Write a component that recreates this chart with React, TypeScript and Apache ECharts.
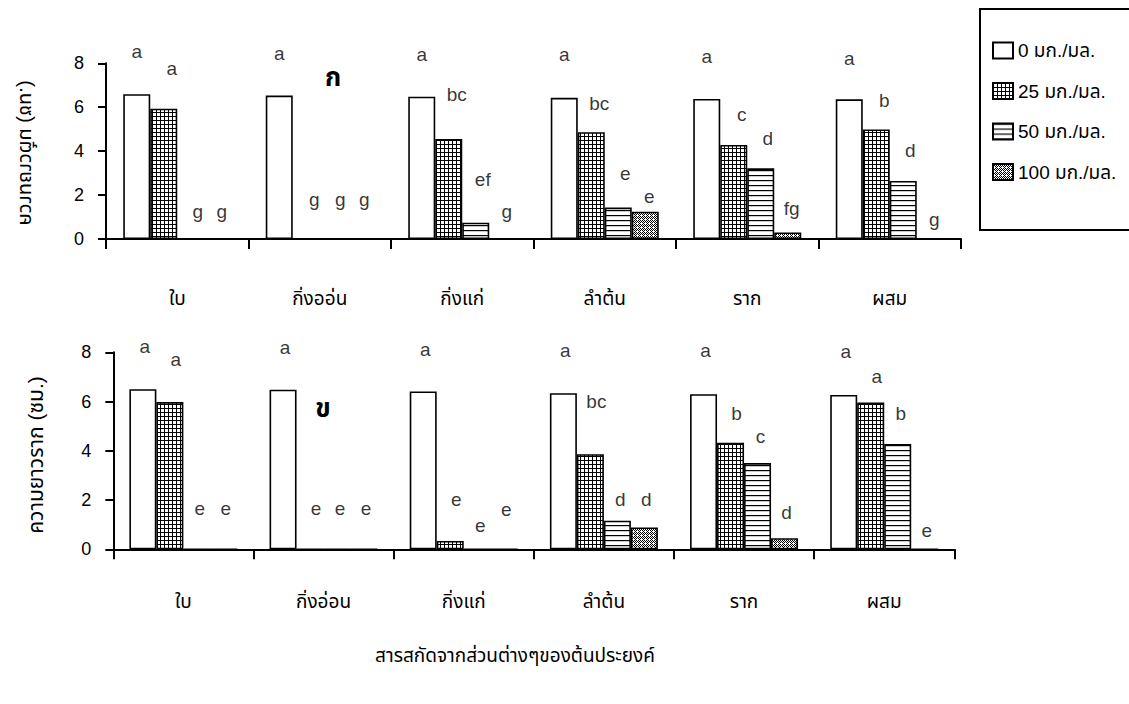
import React, { useEffect, useRef } from 'react';
import * as echarts from 'echarts';

// ---------- data ----------
const categoriesTop = ['ใบ', 'กิ่งออ่น', 'กิ่งแก่', 'ลำต้น', 'ราก', 'ผสม'];
const categoriesBottom = ['ใบ', 'กิ่งอ่อน', 'กิ่งแก่', 'ลำต้น', 'ราก', 'ผสม'];
const seriesNames = ['0 มก./มล.', '25 มก./มล.', '50 มก./มล.', '100 มก./มล.'];

// shoot length (cm) – panel ก
const shoot0 = [6.59, 6.53, 6.48, 6.43, 6.38, 6.36];
const shoot25 = [5.93, 0, 4.55, 4.86, 4.28, 4.99];
const shoot50 = [0, 0, 0.74, 1.43, 3.22, 2.64];
const shoot100 = [0, 0, 0, 1.24, 0.3, 0];

// root length (cm) – panel ข
const root0 = [6.5, 6.48, 6.41, 6.34, 6.3, 6.27];
const root25 = [5.98, 0, 0.34, 3.86, 4.33, 5.96];
const root50 = [0, 0, 0, 1.16, 3.5, 4.28];
const root100 = [0, 0, 0, 0.89, 0.45, 0];

// significance letters and the height (cm) at which each is written
const shootLetters0 = ['a', 'a', 'a', 'a', 'a', 'a'];
const shootLetters25 = ['a', 'g', 'bc', 'bc', 'c', 'b'];
const shootLetters50 = ['g', 'g', 'ef', 'e', 'd', 'd'];
const shootLetters100 = ['g', 'g', 'g', 'e', 'fg', 'g'];
const shootLetterY0 = [8.53, 8.46, 8.42, 8.38, 8.33, 8.23];
const shootLetterY25 = [7.77, 1.78, 6.56, 6.18, 5.65, 6.3];
const shootLetterY50 = [1.24, 1.78, 2.69, 2.96, 4.59, 4.02];
const shootLetterY100 = [1.24, 1.78, 1.24, 1.93, 1.4, 0.87];

const rootLetters0 = ['a', 'a', 'a', 'a', 'a', 'a'];
const rootLetters25 = ['a', 'e', 'e', 'bc', 'b', 'a'];
const rootLetters50 = ['e', 'e', 'e', 'd', 'c', 'b'];
const rootLetters100 = ['e', 'e', 'e', 'd', 'd', 'e'];
const rootLetterY0 = [8.24, 8.21, 8.1, 8.07, 8.07, 8.03];
const rootLetterY25 = [7.7, 1.67, 2.03, 6.0, 5.53, 7.02];
const rootLetterY50 = [1.67, 1.67, 0.95, 2.03, 4.58, 5.5];
const rootLetterY100 = [1.67, 1.67, 1.63, 2.03, 1.49, 0.78];

const yTicks = { min: 0, max: 8, interval: 2 };

const FONT = "'Liberation Sans', Arial, 'Noto Sans Thai', 'Noto Sans', sans-serif";

function makeCanvas(w: number, h: number, draw: (ctx: CanvasRenderingContext2D) => void) {
  const c = document.createElement('canvas');
  c.width = w;
  c.height = h;
  const ctx = c.getContext('2d') as CanvasRenderingContext2D;
  draw(ctx);
  return c;
}

export default function App() {
  const ref = useRef<HTMLDivElement>(null);

  useEffect(() => {
    if (!ref.current) return;
    const chart = echarts.init(ref.current, undefined, { renderer: 'svg' });

    const gridCanvas = makeCanvas(4, 4, (ctx) => {
      ctx.fillStyle = '#fff';
      ctx.fillRect(0, 0, 4, 4);
      ctx.fillStyle = '#000';
      ctx.fillRect(0, 0, 1, 4);
      ctx.fillRect(0, 0, 4, 1);
    });
    const lineCanvas = makeCanvas(4, 5, (ctx) => {
      ctx.fillStyle = '#fff';
      ctx.fillRect(0, 0, 4, 5);
      ctx.fillStyle = '#000';
      ctx.fillRect(0, 0, 4, 1.2);
    });
    const dotCanvas = makeCanvas(4, 4, (ctx) => {
      ctx.fillStyle = '#fff';
      ctx.fillRect(0, 0, 4, 4);
      ctx.fillStyle = '#000';
      ctx.fillRect(0, 0, 1, 1);
      ctx.fillRect(2, 0, 1, 1);
      ctx.fillRect(1, 1, 1, 1);
      ctx.fillRect(3, 1, 1, 1);
      ctx.fillRect(0, 2, 1, 1);
      ctx.fillRect(2, 2, 1, 1);
      ctx.fillRect(3, 3, 1, 1);
    });
    const fills: any[] = [
      '#ffffff',
      { image: gridCanvas, repeat: 'repeat' },
      { image: lineCanvas, repeat: 'repeat' },
      { image: dotCanvas, repeat: 'repeat' },
    ];

    const BAR_W = 27;
    const topVals = [shoot0, shoot25, shoot50, shoot100];
    const botVals = [root0, root25, root50, root100];
    const topLetters = [shootLetters0, shootLetters25, shootLetters50, shootLetters100];
    const topLetterY = [shootLetterY0, shootLetterY25, shootLetterY50, shootLetterY100];
    const botLetters = [rootLetters0, rootLetters25, rootLetters50, rootLetters100];
    const botLetterY = [rootLetterY0, rootLetterY25, rootLetterY50, rootLetterY100];
    const topShift = [0, 8, 7, 4];
    const botShift = [2, 6, 3, 2];

    const series: any[] = [];
    [0, 1].forEach((g) => {
      const vals = g === 0 ? topVals : botVals;
      vals.forEach((arr, i) => {
        series.push({
          name: seriesNames[i],
          type: 'bar',
          xAxisIndex: g,
          yAxisIndex: g,
          barWidth: BAR_W,
          barGap: '0%',
          itemStyle: { color: fills[i], borderColor: '#000', borderWidth: 1.6 },
          data: arr,
        });
      });
    });
    [0, 1].forEach((g) => {
      const letters = g === 0 ? topLetters : botLetters;
      const ly = g === 0 ? topLetterY : botLetterY;
      const shift = g === 0 ? topShift : botShift;
      letters.forEach((arr, i) => {
        series.push({
          name: 'letters-' + g + '-' + i,
          type: 'scatter',
          xAxisIndex: g,
          yAxisIndex: g,
          symbolSize: 1,
          clip: false,
          itemStyle: { color: 'rgba(0,0,0,0)' },
          silent: true,
          label: {
            show: true,
            position: 'inside',
            offset: [(i - 1.5) * BAR_W + shift[i], 0],
            formatter: (p: any) => arr[p.dataIndex],
            fontSize: 19,
            color: '#000',
            fontFamily: FONT,
          },
          data: ly[i].map((y, k) => [k, y]),
        });
      });
    });

    const xAxisCommon = (data: string[], gridIndex: number, margin: number) => ({
      type: 'category',
      gridIndex,
      data,
      boundaryGap: true,
      axisLine: { show: true, lineStyle: { color: '#000', width: 2 } },
      axisTick: { show: true, interval: 0, length: 10, lineStyle: { color: '#000', width: 2 } },
      axisLabel: { interval: 0, margin, fontSize: 19, color: '#000', fontFamily: FONT },
      splitLine: { show: false },
    });
    const yAxisCommon = (gridIndex: number) => ({
      type: 'value',
      gridIndex,
      min: yTicks.min,
      max: yTicks.max,
      interval: yTicks.interval,
      axisLine: { show: true, lineStyle: { color: '#000', width: 2 } },
      axisTick: { show: true, length: 8, lineStyle: { color: '#000', width: 2 } },
      axisLabel: { margin: 22, fontSize: 18, color: '#000', fontFamily: FONT },
      splitLine: { show: false },
    });

    chart.setOption({
      animation: false,
      backgroundColor: '#fff',
      grid: [
        { left: 106, top: 63.3, width: 855, height: 175.7 },
        { left: 113.3, top: 352.3, width: 841, height: 197 },
      ],
      xAxis: [xAxisCommon(categoriesTop, 0, 50), xAxisCommon(categoriesBottom, 1, 43)],
      yAxis: [yAxisCommon(0), yAxisCommon(1)],
      legend: {
        data: seriesNames,
        orient: 'vertical',
        left: 987,
        top: 36,
        itemWidth: 20,
        itemHeight: 16,
        itemGap: 21.5,
        icon: 'rect',
        selectedMode: false,
        textStyle: { fontSize: 19, lineHeight: 16, color: '#000', fontFamily: FONT },
      },
      graphic: [
        {
          type: 'rect',
          shape: { x: 980, y: 9, width: 180, height: 221 },
          style: { fill: 'none', stroke: '#000', lineWidth: 2 },
          silent: true,
        },
        {
          type: 'text',
          x: 27,
          y: 153,
          rotation: Math.PI / 2,
          scaleY: -1,
          style: {
            text: 'ความยาวต้น (ซม.)',
            fontSize: 20,
            fontFamily: FONT,
            fill: '#000',
            align: 'center',
            verticalAlign: 'middle',
          },
        },
        {
          type: 'text',
          x: 35,
          y: 455,
          rotation: Math.PI / 2,
          style: {
            text: 'ความยาวราก (ซม.)',
            fontSize: 21,
            fontFamily: FONT,
            fill: '#000',
            align: 'center',
            verticalAlign: 'middle',
          },
        },
        {
          type: 'text',
          x: 333,
          y: 77,
          style: {
            text: 'ก',
            fontSize: 26,
            fontWeight: 'bold',
            fontFamily: FONT,
            fill: '#000',
            align: 'center',
            verticalAlign: 'middle',
          },
        },
        {
          type: 'text',
          x: 323,
          y: 408,
          style: {
            text: 'ข',
            fontSize: 26,
            fontWeight: 'bold',
            fontFamily: FONT,
            fill: '#000',
            align: 'center',
            verticalAlign: 'middle',
          },
        },
        {
          type: 'text',
          x: 515,
          y: 655,
          style: {
            text: 'สารสกัดจากส่วนต่างๆของต้นประยงค์',
            fontSize: 19,
            fontFamily: FONT,
            fill: '#000',
            align: 'center',
            verticalAlign: 'middle',
          },
        },
      ],
      series,
    });

    return () => {
      chart.dispose();
    };
  }, []);

  return (
    <div
      ref={ref}
      style={{ position: 'fixed', left: 0, top: 0, width: 1129, height: 704, background: '#fff' }}
    />
  );
}
